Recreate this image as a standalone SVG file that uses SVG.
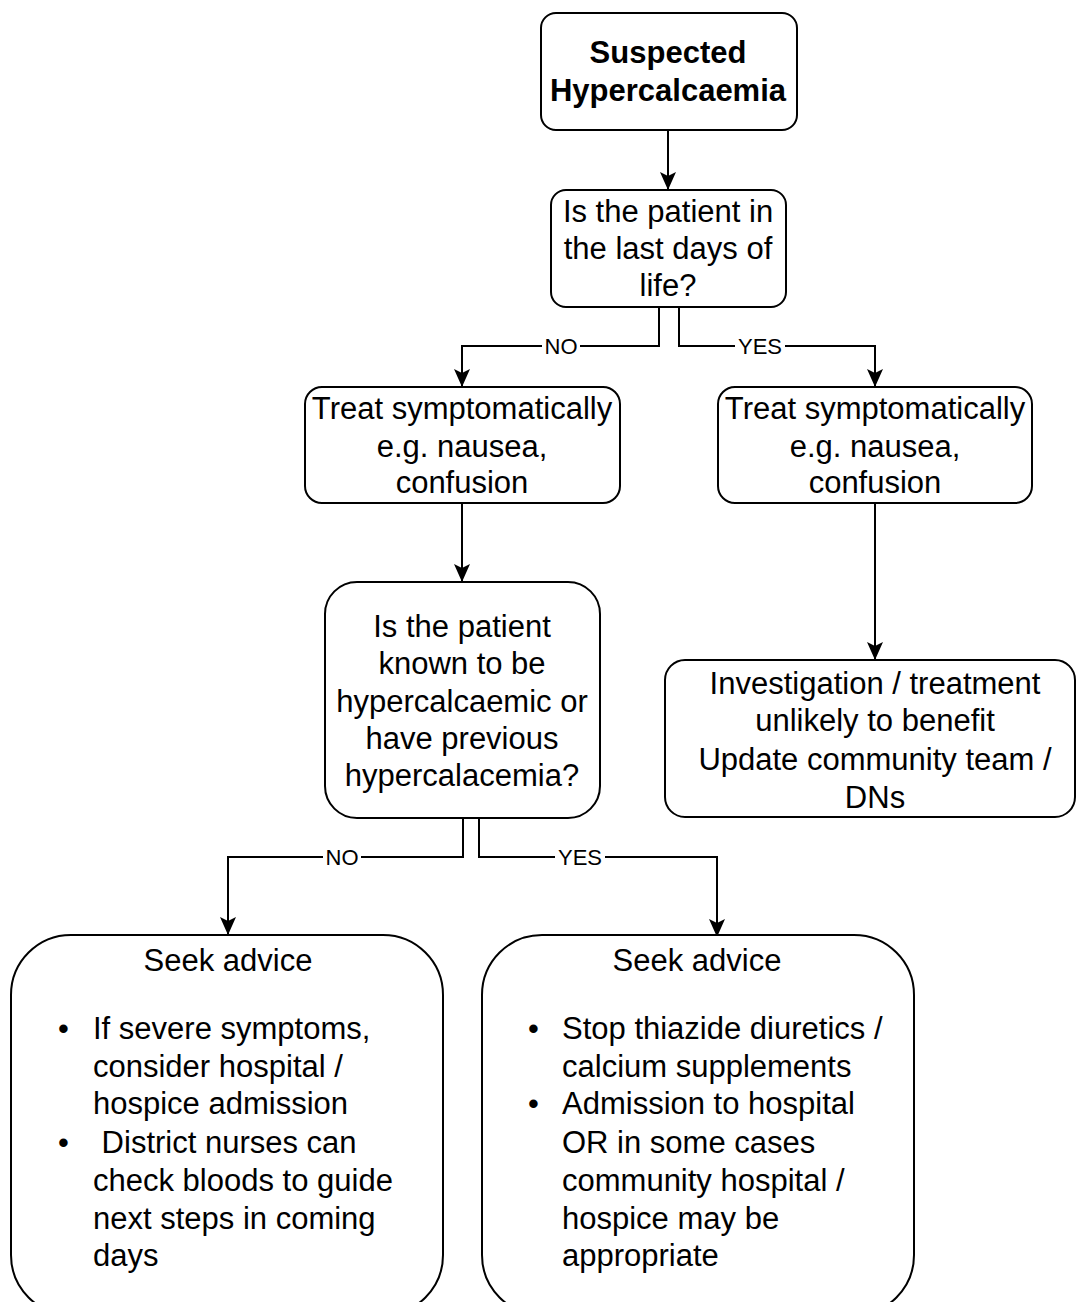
<svg xmlns="http://www.w3.org/2000/svg" width="1076" height="1302" viewBox="0 0 1076 1302">
  <style>
    .box { fill: #ffffff; stroke: #000000; stroke-width: 2; }
    .t { font-family: "Liberation Sans", Arial, Helvetica, sans-serif; font-size: 31px; fill: #000000; }
    .c { text-anchor: middle; }
    .b { font-weight: bold; }
    .wire { fill: none; stroke: #000000; stroke-width: 2; }
    .lbl { font-family: "Liberation Sans", Arial, Helvetica, sans-serif; font-size: 22px; fill: #000000; text-anchor: middle; }
  </style>
  <defs>
    <marker id="arrow" viewBox="0 0 18 16" refX="17" refY="8" markerWidth="18" markerHeight="16" markerUnits="userSpaceOnUse" orient="auto">
      <path d="M0,0 L18,8 L0,16 L4,8 Z" fill="#000000"/>
    </marker>
  </defs>
  <rect width="1076" height="1302" fill="#ffffff"/>

  <!-- connectors -->
  <g id="connectors">
    <path class="wire" d="M668,130 V189" marker-end="url(#arrow)"/>
    <path class="wire" d="M659,307 V346 H462 V386" marker-end="url(#arrow)"/>
    <path class="wire" d="M679,307 V346 H875 V386" marker-end="url(#arrow)"/>
    <path class="wire" d="M462,503 V581" marker-end="url(#arrow)"/>
    <path class="wire" d="M875,503 V659" marker-end="url(#arrow)"/>
    <path class="wire" d="M463,818 V857 H228 V934" marker-end="url(#arrow)"/>
    <path class="wire" d="M479,818 V857 H717 V936" marker-end="url(#arrow)"/>
    <rect x="542" y="334" width="38" height="24" fill="#ffffff"/>
    <text class="lbl" x="561" y="354">NO</text>
    <rect x="735" y="334" width="50" height="24" fill="#ffffff"/>
    <text class="lbl" x="760" y="354">YES</text>
    <rect x="323" y="845" width="38" height="24" fill="#ffffff"/>
    <text class="lbl" x="342" y="865">NO</text>
    <rect x="555" y="845" width="50" height="24" fill="#ffffff"/>
    <text class="lbl" x="580" y="865">YES</text>
  </g>

  <g id="start">
    <rect class="box" x="541" y="13" width="256" height="117" rx="15"/>
    <text class="t c b" x="668" y="63">Suspected</text>
    <text class="t c b" x="668" y="101">Hypercalcaemia</text>
  </g>

  <g id="last-days">
    <rect class="box" x="551" y="190" width="235" height="117" rx="15"/>
    <text class="t c" x="668" y="222">Is the patient in</text>
    <text class="t c" x="668" y="259">the last days of</text>
    <text class="t c" x="668" y="296">life?</text>
  </g>

  <g id="treat-no">
    <rect class="box" x="305" y="387" width="315" height="116" rx="17"/>
    <text class="t c" x="462" y="419">Treat symptomatically</text>
    <text class="t c" x="462" y="457">e.g. nausea,</text>
    <text class="t c" x="462" y="493">confusion</text>
  </g>

  <g id="treat-yes">
    <rect class="box" x="718" y="387" width="314" height="116" rx="17"/>
    <text class="t c" x="875" y="419">Treat symptomatically</text>
    <text class="t c" x="875" y="457">e.g. nausea,</text>
    <text class="t c" x="875" y="493">confusion</text>
  </g>

  <g id="known">
    <rect class="box" x="325" y="582" width="275" height="236" rx="32"/>
    <text class="t c" x="462" y="637">Is the patient</text>
    <text class="t c" x="462" y="674">known to be</text>
    <text class="t c" x="462" y="712">hypercalcaemic or</text>
    <text class="t c" x="462" y="749">have previous</text>
    <text class="t c" x="462" y="786">hypercalacemia?</text>
  </g>

  <g id="unlikely">
    <rect class="box" x="665" y="660" width="410" height="157" rx="20"/>
    <text class="t c" x="875" y="694">Investigation / treatment</text>
    <text class="t c" x="875" y="731">unlikely to benefit</text>
    <text class="t c" x="875" y="770">Update community team /</text>
    <text class="t c" x="875" y="808">DNs</text>
  </g>

  <g id="advice-no">
    <rect class="box" x="11" y="935" width="432" height="380" rx="60"/>
    <text class="t c" x="228" y="971">Seek advice</text>
    <text class="t" x="58" y="1039">•</text>
    <text class="t" x="93" y="1039">If severe symptoms,</text>
    <text class="t" x="93" y="1077">consider hospital /</text>
    <text class="t" x="93" y="1114">hospice admission</text>
    <text class="t" x="58" y="1153">•</text>
    <text class="t" x="93" y="1153" xml:space="preserve"> District nurses can</text>
    <text class="t" x="93" y="1191">check bloods to guide</text>
    <text class="t" x="93" y="1229">next steps in coming</text>
    <text class="t" x="93" y="1266">days</text>
  </g>

  <g id="advice-yes">
    <rect class="box" x="482" y="935" width="432" height="380" rx="60"/>
    <text class="t c" x="697" y="971">Seek advice</text>
    <text class="t" x="528" y="1039">•</text>
    <text class="t" x="562" y="1039">Stop thiazide diuretics /</text>
    <text class="t" x="562" y="1077">calcium supplements</text>
    <text class="t" x="528" y="1114">•</text>
    <text class="t" x="562" y="1114">Admission to hospital</text>
    <text class="t" x="562" y="1153">OR in some cases</text>
    <text class="t" x="562" y="1191">community hospital /</text>
    <text class="t" x="562" y="1229">hospice may be</text>
    <text class="t" x="562" y="1266">appropriate</text>
  </g>
</svg>
